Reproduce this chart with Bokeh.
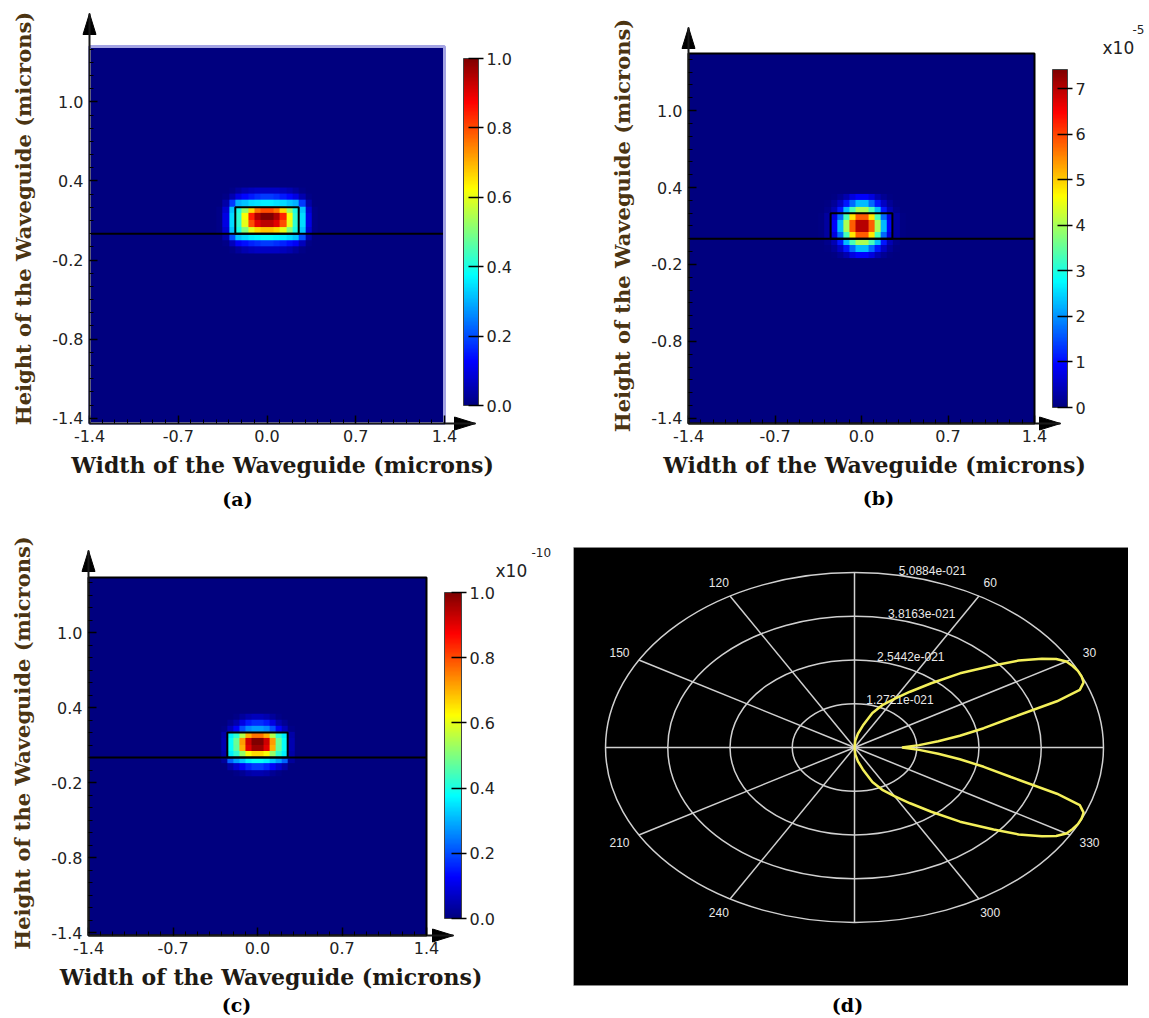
import numpy as np
from bokeh.plotting import figure
from bokeh.models import (LinearColorMapper, ColorBar, FixedTicker, Label, Range1d,
                          PrintfTickFormatter)
from bokeh.core.properties import value
from bokeh.layouts import row, column
from bokeh.embed import file_html
from bokeh.resources import INLINE

# ---------------- data ----------------
x_ticks = [-1.4, -0.7, 0.0, 0.7, 1.4]
y_ticks = [-1.4, -0.8, -0.2, 0.4, 1.0]
minor_ticks = [-1.4, -1.3, -1.2, -1.1, -1.0, -0.9, -0.8, -0.7, -0.6, -0.5, -0.4, -0.3, -0.2, -0.1, 0.0,
               0.1, 0.2, 0.3, 0.4, 0.5, 0.6, 0.7, 0.8, 0.9, 1.0, 1.1, 1.2, 1.3, 1.4]
x_limits = [-1.4, 1.4]

core_x = [-0.25, 0.25]      # waveguide core (microns)
core_y = [0.0, 0.2]
substrate_y = 0.0

field_x_extent = [-0.4, 0.4]   # sampled window of the mode field
field_y_extent = [-0.15, 0.35]

# rows listed from top (y=0.325) to bottom (y=-0.125); 16 columns from x=-0.375 to 0.375
field_a = [
    [0, 0, 0.01, 0.03, 0.05, 0.06, 0.07, 0.07, 0.07, 0.07, 0.06, 0.05, 0.03, 0.01, 0, 0],
    [0, 0.01, 0.05, 0.10, 0.13, 0.15, 0.17, 0.18, 0.18, 0.17, 0.15, 0.13, 0.10, 0.05, 0.01, 0],
    [0, 0.04, 0.18, 0.30, 0.32, 0.34, 0.35, 0.36, 0.36, 0.35, 0.34, 0.32, 0.30, 0.18, 0.04, 0],
    [0.01, 0.08, 0.32, 0.40, 0.52, 0.66, 0.76, 0.80, 0.80, 0.76, 0.66, 0.52, 0.40, 0.32, 0.08, 0.01],
    [0.01, 0.10, 0.34, 0.42, 0.62, 0.84, 0.95, 1.00, 1.00, 0.95, 0.84, 0.62, 0.42, 0.34, 0.10, 0.01],
    [0.01, 0.10, 0.34, 0.42, 0.60, 0.80, 0.90, 0.94, 0.94, 0.90, 0.80, 0.60, 0.42, 0.34, 0.10, 0.01],
    [0.01, 0.08, 0.32, 0.40, 0.50, 0.60, 0.66, 0.68, 0.68, 0.66, 0.60, 0.50, 0.40, 0.32, 0.08, 0.01],
    [0, 0.04, 0.20, 0.32, 0.34, 0.36, 0.37, 0.38, 0.38, 0.37, 0.36, 0.34, 0.32, 0.20, 0.04, 0],
    [0, 0.01, 0.06, 0.12, 0.14, 0.16, 0.17, 0.18, 0.18, 0.17, 0.16, 0.14, 0.12, 0.06, 0.01, 0],
    [0, 0, 0.01, 0.03, 0.05, 0.06, 0.07, 0.07, 0.07, 0.07, 0.06, 0.05, 0.03, 0.01, 0, 0],
]
# values in units of 1e-5
field_b = [
    [0, 0, 0, 0.05, 0.15, 0.35, 0.7, 0.9, 0.9, 0.7, 0.35, 0.15, 0.05, 0, 0, 0],
    [0, 0, 0.05, 0.2, 0.5, 1.1, 1.7, 2.3, 2.3, 1.7, 1.1, 0.5, 0.2, 0.05, 0, 0],
    [0, 0, 0.1, 0.4, 1.1, 2.3, 3.3, 4.0, 4.0, 3.3, 2.3, 1.1, 0.4, 0.1, 0, 0],
    [0, 0.05, 0.25, 0.7, 1.7, 3.3, 4.8, 5.8, 5.8, 4.8, 3.3, 1.7, 0.7, 0.25, 0.05, 0],
    [0, 0.05, 0.25, 0.9, 2.3, 4.0, 5.8, 7.0, 7.0, 5.8, 4.0, 2.3, 0.9, 0.25, 0.05, 0],
    [0, 0.05, 0.25, 0.9, 2.3, 4.0, 5.8, 7.0, 7.0, 5.8, 4.0, 2.3, 0.9, 0.25, 0.05, 0],
    [0, 0.05, 0.25, 0.7, 1.7, 3.3, 4.8, 5.8, 5.8, 4.8, 3.3, 1.7, 0.7, 0.25, 0.05, 0],
    [0, 0, 0.1, 0.4, 1.1, 2.3, 3.3, 4.0, 4.0, 3.3, 2.3, 1.1, 0.4, 0.1, 0, 0],
    [0, 0, 0.05, 0.2, 0.5, 1.1, 1.7, 2.3, 2.3, 1.7, 1.1, 0.5, 0.2, 0.05, 0, 0],
    [0, 0, 0, 0.05, 0.15, 0.35, 0.7, 0.9, 0.9, 0.7, 0.35, 0.15, 0.05, 0, 0, 0],
]
# values in units of 1e-10
field_c = [
    [0, 0, 0, 0, 0.01, 0.03, 0.05, 0.06, 0.06, 0.05, 0.03, 0.01, 0, 0, 0, 0],
    [0, 0, 0, 0.02, 0.05, 0.10, 0.15, 0.17, 0.17, 0.15, 0.10, 0.05, 0.02, 0, 0, 0],
    [0, 0, 0.01, 0.06, 0.12, 0.20, 0.26, 0.28, 0.28, 0.26, 0.20, 0.12, 0.06, 0.01, 0, 0],
    [0, 0, 0.04, 0.36, 0.42, 0.55, 0.70, 0.76, 0.76, 0.70, 0.55, 0.42, 0.36, 0.04, 0, 0],
    [0, 0, 0.05, 0.38, 0.48, 0.72, 0.92, 1.00, 1.00, 0.92, 0.72, 0.48, 0.38, 0.05, 0, 0],
    [0, 0, 0.05, 0.38, 0.47, 0.70, 0.90, 0.97, 0.97, 0.90, 0.70, 0.47, 0.38, 0.05, 0, 0],
    [0, 0, 0.04, 0.36, 0.42, 0.52, 0.62, 0.66, 0.66, 0.62, 0.52, 0.42, 0.36, 0.04, 0, 0],
    [0, 0, 0.03, 0.22, 0.28, 0.32, 0.36, 0.38, 0.38, 0.36, 0.32, 0.28, 0.22, 0.03, 0, 0],
    [0, 0, 0, 0.04, 0.08, 0.12, 0.16, 0.18, 0.18, 0.16, 0.12, 0.08, 0.04, 0, 0, 0],
    [0, 0, 0, 0, 0.01, 0.02, 0.04, 0.05, 0.05, 0.04, 0.02, 0.01, 0, 0, 0, 0],
]

cb_ticks_a = [0.0, 0.2, 0.4, 0.6, 0.8, 1.0]
cb_ticks_b = [0, 1, 2, 3, 4, 5, 6, 7]
cb_ticks_c = [0.0, 0.2, 0.4, 0.6, 0.8, 1.0]
cb_max_a, cb_max_b, cb_max_c = 1.0, 7.42, 1.0
exp_b, exp_c = "-5", "-10"

# polar pattern (d): radius in units of 1e-21
ring_values = [1.2721, 2.5442, 3.8163, 5.0884]
ring_labels = ["1.2721e-021", "2.5442e-021", "3.8163e-021", "5.0884e-021"]
spoke_angles = [0, 30, 60, 90, 120, 150, 180, 210, 240, 270, 300, 330]
angle_labels = [30, 60, 120, 150, 210, 240, 300, 330]
lobe_theta = [-90, -85, -80, -75, -70, -65, -60, -55, -50, -45, -40, -37, -34, -32, -30, -28, -26, -24,
              -22, -20, -18, -15, -12, -9, -6, -3, 0, 3, 6, 9, 12, 15, 18, 20, 22, 24, 26, 28, 30, 32,
              34, 37, 40, 45, 50, 55, 60, 65, 70, 75, 80, 85, 90]
lobe_r = [0.0, 0.20, 0.41, 0.66, 1.07, 1.37, 1.63, 1.98, 2.44, 3.05, 3.71, 4.20, 4.62, 4.86, 5.00, 5.05,
          5.08, 5.08, 5.05, 4.90, 4.35, 3.31, 2.70, 2.18, 1.72, 1.32, 0.97, 1.32, 1.72, 2.18, 2.70, 3.31,
          4.35, 4.90, 5.05, 5.08, 5.08, 5.05, 5.00, 4.86, 4.62, 4.20, 3.71, 3.05, 2.44, 1.98, 1.63, 1.37,
          1.07, 0.66, 0.41, 0.20, 0.0]

# ---------------- styling ----------------
def jet_hex(v):
    r = min(max(1.5 - abs(4 * v - 3), 0), 1)
    g = min(max(1.5 - abs(4 * v - 2), 0), 1)
    b = min(max(1.5 - abs(4 * v - 1), 0), 1)
    return "#%02x%02x%02x" % (int(r * 255), int(g * 255), int(b * 255))

JET = [jet_hex(i / 255) for i in range(256)]
NAVY = JET[0]
SERIF = "DejaVu Serif"
SANS = "DejaVu Sans"
TICK_COLOR = "#222222"


def bare_figure(w, h, xr, yr):
    p = figure(frame_width=w, frame_height=h, min_border=0,
               min_border_left=0, min_border_right=0, min_border_top=0, min_border_bottom=0,
               x_range=Range1d(*xr), y_range=Range1d(*yr),
               output_backend="svg", toolbar_location=None)
    p.background_fill_color = "white"
    p.border_fill_color = "white"
    p.outline_line_color = None
    p.grid.visible = False
    return p


def field_panel(field, high, cb_ticks, cb_fmt, g, letter, exp=None):
    # page-pixel geometry -> data ranges (the frame covers the whole figure)
    fx0, fy0, fw, fh = g["fig"]
    bl, br, bt, bb = g["box"]
    y0, y1 = g["y"]
    ppx = (br - bl) / (x_limits[1] - x_limits[0])
    ppy = (bb - bt) / (y1 - y0)
    X = lambda px: x_limits[0] + (px - bl) / ppx
    Y = lambda py: y0 + (bb - py) / ppy

    p = bare_figure(fw, fh, (X(fx0), X(fx0 + fw)), (Y(fy0 + fh), Y(fy0)))

    # plot area
    p.quad(left=x_limits[0], right=x_limits[1], bottom=y0, top=y1, fill_color=NAVY, line_color=None)
    mapper = LinearColorMapper(palette=JET, low=0, high=high)
    arr = np.flipud(np.array(field, dtype=float))
    p.image(image=[arr], x=field_x_extent[0], y=field_y_extent[0],
            dw=field_x_extent[1] - field_x_extent[0], dh=field_y_extent[1] - field_y_extent[0],
            color_mapper=mapper)
    p.quad(left=core_x[0], right=core_x[1], bottom=core_y[0], top=core_y[1],
           fill_alpha=0, line_color="black", line_width=2)
    p.segment(x0=x_limits[0], y0=substrate_y, x1=x_limits[1], y1=substrate_y,
              line_color="black", line_width=2)
    p.quad(left=x_limits[0], right=x_limits[1], bottom=y0, top=y1, fill_alpha=0,
           line_color=g.get("edge", "black"), line_width=g.get("edge_w", 2))

    # axes with arrows
    ytip, xtip = Y(g["ytip"]), X(g["xtip"])
    for ax in (p.xaxis[0], p.yaxis[0]):
        ax.axis_line_color = "#1a1a1a"
        ax.axis_line_width = 2
        ax.major_tick_in = 8
        ax.major_tick_out = 0
        ax.minor_tick_in = 4
        ax.minor_tick_out = 0
        ax.major_tick_line_color = "black"
        ax.minor_tick_line_color = "black"
        ax.major_tick_line_width = 1.5
        ax.major_label_text_font = SANS
        ax.major_label_text_font_size = "16px"
        ax.major_label_text_color = TICK_COLOR
        ax.major_label_standoff = 6
        ax.formatter = PrintfTickFormatter(format="%.1f")
        ax.axis_label_text_font = SERIF
        ax.axis_label_text_font_style = "bold"
    p.xaxis.ticker = FixedTicker(ticks=x_ticks, minor_ticks=minor_ticks)
    p.yaxis.ticker = FixedTicker(ticks=y_ticks, minor_ticks=minor_ticks)
    p.xaxis.fixed_location = y0
    p.yaxis.fixed_location = x_limits[0]
    p.xaxis.bounds = (x_limits[0], xtip)
    p.yaxis.bounds = (y0, ytip)
    p.xaxis.axis_label = "Width of the Waveguide (microns)"
    p.yaxis.axis_label = "Height of the Waveguide (microns)"
    p.xaxis.axis_label_text_font_size = "22px"
    p.yaxis.axis_label_text_font_size = "21px"
    p.xaxis.axis_label_text_color = "#1e1a14"
    p.yaxis.axis_label_text_color = "#4b3412"
    p.xaxis.axis_label_standoff = 7
    p.yaxis.axis_label_standoff = 13

    hx, hl = 6.5, 21
    p.patches(xs=[[X(bl - hx), X(bl), X(bl + hx)], [xtip - hl / ppx, xtip, xtip - hl / ppx]],
              ys=[[ytip - hl / ppy, ytip, ytip - hl / ppy], [Y(bb - hx), Y(bb), Y(bb + hx)]],
              fill_color="black", line_color="black", line_width=1)

    cbl, cbb, cbw, cbh = g["cb"]
    cb = ColorBar(color_mapper=mapper, ticker=FixedTicker(ticks=cb_ticks),
                  formatter=PrintfTickFormatter(format=cb_fmt),
                  width=cbw, height=cbh, location=(cbl - fx0, fy0 + fh - cbb),
                  padding=0, margin=0, label_standoff=3,
                  major_label_text_font=SANS, major_label_text_font_size="16px",
                  major_label_text_color=TICK_COLOR,
                  major_tick_line_color="black", major_tick_line_width=1.5,
                  major_tick_in=10, major_tick_out=5,
                  bar_line_color="#444444", bar_line_width=1,
                  background_fill_alpha=0, border_line_color=None)
    p.add_layout(cb)

    if exp is not None:
        (ex, ey), (sx, sy), stext = exp
        p.add_layout(Label(x=X(ex), y=Y(ey), text="x10", text_font=SANS, text_font_size="17px",
                           text_color="#222222", text_baseline="middle", text_align="left"))
        p.add_layout(Label(x=X(sx), y=Y(sy), text=stext, text_font=SANS, text_font_size="12px",
                           text_color="#222222", text_baseline="middle", text_align="left"))

    lx, ly = g["letter"]
    p.add_layout(Label(x=X(lx), y=Y(ly), text=letter, text_font=SERIF, text_font_style="bold",
                       text_font_size="19px", text_color="black",
                       text_align="center", text_baseline="middle"))
    return p


geo_a = dict(fig=(0, 0, 575, 518), box=(89, 444, 46, 423), y=(-1.44, 1.42),
             ytip=13, xtip=475, cb=(463, 405, 15, 347), letter=(237, 498),
             edge="#a3a3e3", edge_w=3)
geo_b = dict(fig=(575, 0, 574, 518), box=(688, 1034, 53, 423), y=(-1.44, 1.445),
             ytip=27, xtip=1060, cb=(1052, 407, 15, 338), letter=(878, 497))
geo_c = dict(fig=(0, 518, 573, 498), box=(88, 426, 577, 935), y=(-1.424, 1.44),
             ytip=550, xtip=453, cb=(444, 918, 17, 326), letter=(236, 1004))

pa = field_panel(field_a, cb_max_a, cb_ticks_a, "%.1f", geo_a, "(a)")
pb = field_panel(field_b, cb_max_b, cb_ticks_b, "%d", geo_b, "(b)",
                 exp=((1102, 47), (1132, 29), exp_b))
pc = field_panel(field_c, cb_max_c, cb_ticks_c, "%.1f", geo_c, "(c)",
                 exp=((495, 570), (531, 552), exp_c))

# ---------------- polar panel (d) ----------------
# figure spans page x 573..1128, y 518..1016; polar centre at page (854, 747)
PPX_D, PPY_D, CX_D, CY_D = 48.93, 34.39, 854, 747
XD = lambda px: (px - CX_D) / PPX_D
YD = lambda py: (CY_D - py) / PPY_D
pd = bare_figure(555, 498, (XD(573), XD(1128)), (YD(1016), YD(518)))
pd.xaxis.visible = False
pd.yaxis.visible = False
pd.quad(left=XD(573), right=XD(1128), bottom=YD(985), top=YD(547),
        fill_color="black", line_color="#888888", line_width=1)

GRID = "#d0d0d0"
R = ring_values[-1]
pd.ellipse(x=0, y=0, width=[2 * v for v in ring_values], height=[2 * v for v in ring_values],
           fill_alpha=0, line_color=GRID, line_width=1.5)
sa = np.radians(spoke_angles)
pd.segment(x0=0, y0=0, x1=R * np.cos(sa), y1=R * np.sin(sa), line_color=GRID, line_width=1.5)

la = np.radians(angle_labels)
pd.text(x=1.09 * R * np.cos(la), y=1.09 * R * np.sin(la), text=[str(a) for a in angle_labels],
        text_color="#e8e8e8", text_font=value("Liberation Sans"),
        text_font_size="12px", text_align="center", text_baseline="middle")
ra = np.radians(80)
pd.text(x=[v * np.cos(ra) for v in ring_values], y=[v * np.sin(ra) for v in ring_values],
        text=ring_labels, text_color="#e8e8e8", text_font=value("Liberation Sans"),
        text_font_size="12px", text_align="left", text_baseline="bottom", x_offset=1, y_offset=0)

lt = np.radians(lobe_theta)
lr = np.array(lobe_r)
pd.line(x=lr * np.cos(lt), y=lr * np.sin(lt), line_color="#f4f05a", line_width=2.5)

pd.add_layout(Label(x=XD(847), y=YD(1004), text="(d)", text_font=SERIF, text_font_style="bold",
                    text_font_size="19px", text_color="black",
                    text_align="center", text_baseline="middle"))

layout = column(row(pa, pb), row(pc, pd))
open("out.html", "w").write(file_html(layout, INLINE))
